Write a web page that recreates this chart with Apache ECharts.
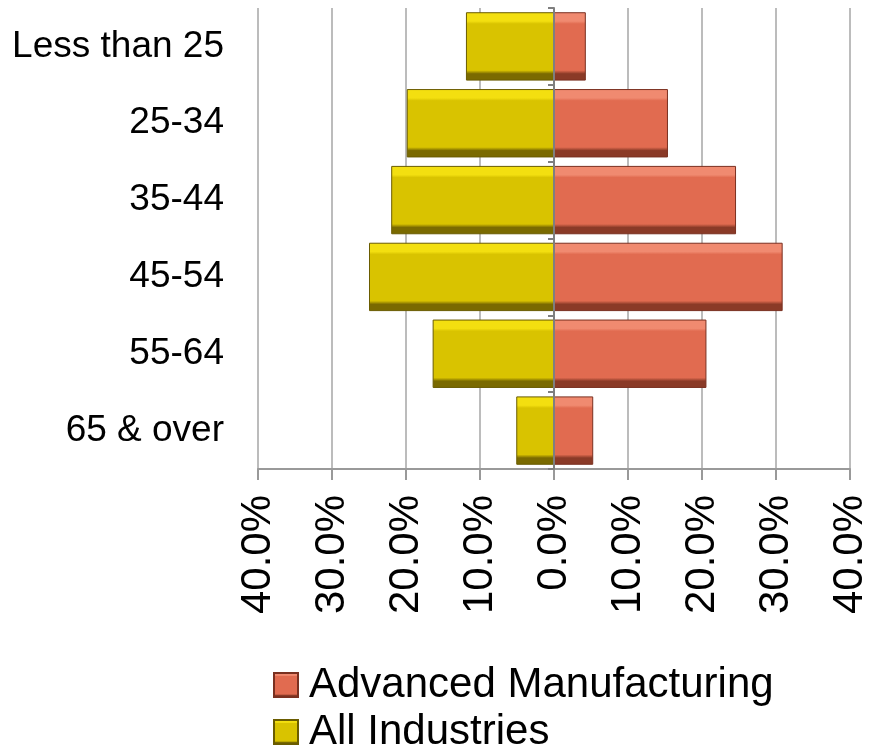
<!DOCTYPE html>
<html>
<head>
<meta charset="utf-8">
<script src="https://cdn.jsdelivr.net/npm/echarts@6/dist/echarts.min.js"></script>
<style>
html,body{margin:0;padding:0;background:#fff;}
#chart{width:871px;height:749px;}
</style>
</head>
<body>
<div id="chart"></div>
<script>
const categories = ['Less than 25', '25-34', '35-44', '45-54', '55-64', '65 & over'];
const advancedManufacturing = [4.3, 15.4, 24.6, 30.9, 20.6, 5.3];
const allIndustries = [11.9, 19.9, 22.0, 25.0, 16.4, 5.1];
const xTicks = { min: -40, max: 40, interval: 10 };

function bevel(light, main, dark) {
  return new echarts.graphic.LinearGradient(0, 0, 0, 1, [
    { offset: 0, color: light },
    { offset: 0.13, color: light },
    { offset: 0.17, color: main },
    { offset: 0.85, color: main },
    { offset: 0.9, color: dark },
    { offset: 1, color: dark }
  ]);
}

const chart = echarts.init(document.getElementById('chart'));
const font = '"Liberation Sans", Arial, sans-serif';
chart.setOption({
  animation: false,
  textStyle: { fontFamily: font },
  grid: { left: 258, right: 18, top: 8, bottom: 280, containLabel: false },
  legend: {
    orient: 'vertical',
    left: 273,
    top: 664,
    height: 120,
    padding: 0,
    itemWidth: 24,
    itemHeight: 24,
    itemGap: 5,
    icon: 'rect',
    textStyle: { fontSize: 42, color: '#000', fontFamily: font, padding: [0, 0, 0, 6] },
    data: ['Advanced Manufacturing', 'All Industries']
  },
  xAxis: {
    type: 'value',
    min: xTicks.min,
    max: xTicks.max,
    interval: xTicks.interval,
    axisLine: { show: true, onZero: false, lineStyle: { color: '#999', width: 2 } },
    axisTick: { show: true, length: 11, lineStyle: { color: '#999', width: 2 } },
    splitLine: { show: true, lineStyle: { color: '#a6a6a6', width: 1.5 } },
    axisLabel: {
      rotate: 90,
      margin: 26,
      fontSize: 42,
      color: '#000',
      fontFamily: font,
      formatter: v => Math.abs(v).toFixed(1) + '%'
    }
  },
  yAxis: [
    {
      type: 'category',
      data: categories,
      inverse: true,
      position: 'left',
      axisLine: { show: false, onZero: false },
      axisTick: { show: false },
      axisLabel: { fontSize: 37, color: '#000', margin: 34, fontFamily: font }
    },
    {
      type: 'category',
      data: categories,
      inverse: true,
      z: 5,
      axisLine: { show: true, onZero: true, onZeroAxisIndex: 0, lineStyle: { color: '#7f7f7f', width: 2 } },
      axisTick: { show: true, inside: true, length: 6, lineStyle: { color: '#7f7f7f', width: 2 } },
      axisLabel: { show: false }
    }
  ],
  series: [
    {
      name: 'Advanced Manufacturing',
      type: 'bar',
      stack: 'total',
      yAxisIndex: 0,
      barCategoryGap: '11%',
      data: advancedManufacturing,
      itemStyle: {
        color: bevel('#f08a70', '#e16b50', '#8a3a27'),
        borderColor: '#7a3020',
        borderWidth: 1
      }
    },
    {
      name: 'All Industries',
      type: 'bar',
      stack: 'total',
      yAxisIndex: 0,
      barCategoryGap: '11%',
      data: allIndustries.map(v => -v),
      itemStyle: {
        color: bevel('#f3df10', '#d9c300', '#7a6a00'),
        borderColor: '#6a5c00',
        borderWidth: 1
      }
    }
  ]
});
</script>
</body>
</html>
